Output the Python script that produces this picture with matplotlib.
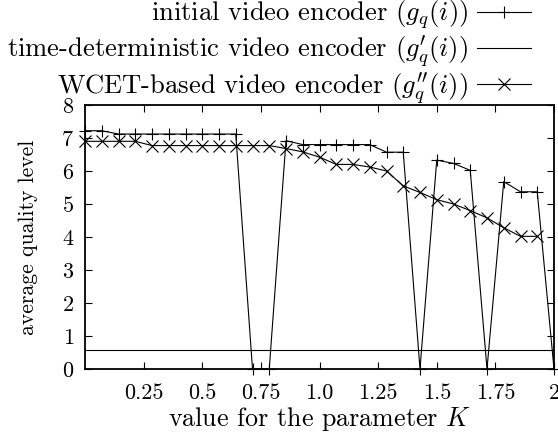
import matplotlib
matplotlib.use("Agg")
import matplotlib.pyplot as plt

plt.rcParams['font.family'] = ['cmr10', 'DejaVu Serif']
plt.rcParams['mathtext.fontset'] = 'cm'
plt.rcParams['axes.formatter.use_mathtext'] = True

# K values: 29 steps of 1/14 between 0 and 2
K = [0/14, 1/14, 2/14, 3/14, 4/14, 5/14, 6/14, 7/14, 8/14, 9/14,
     10/14, 11/14, 12/14, 13/14, 14/14, 15/14, 16/14, 17/14, 18/14, 19/14,
     20/14, 21/14, 22/14, 23/14, 24/14, 25/14, 26/14, 27/14, 28/14]

initial = [7.22, 7.22, 7.12, 7.12, 7.12, 7.12, 7.12, 7.12, 7.12, 7.12,
           0.0, 0.0, 6.92, 6.8, 6.8, 6.8, 6.8, 6.8, 6.57, 6.57,
           0.0, 6.33, 6.23, 6.02, 0.0, 5.68, 5.37, 5.37, 0.0]

time_det = [0.57, 0.57, 0.57, 0.57, 0.57, 0.57, 0.57, 0.57, 0.57, 0.57,
            0.57, 0.57, 0.57, 0.57, 0.57, 0.57, 0.57, 0.57, 0.57, 0.57,
            0.57, 0.57, 0.57, 0.57, 0.57, 0.57, 0.57, 0.57, 0.57]

K_wcet = K[:28]
wcet = [6.9, 6.9, 6.9, 6.9, 6.77, 6.77, 6.77, 6.77, 6.77, 6.77,
        6.77, 6.77, 6.68, 6.58, 6.42, 6.2, 6.2, 6.12, 6.0, 5.55,
        5.35, 5.13, 5.0, 4.8, 4.58, 4.28, 4.02, 4.02]

xticks = [0.25, 0.5, 0.75, 1.0, 1.25, 1.5, 1.75, 2.0]
xticklabels = ['0.25', '0.5', '0.75', '1.0', '1.25', '1.5', '1.75', '2']
yticks = [0, 1, 2, 3, 4, 5, 6, 7, 8]

labels = ['initial video encoder $(g_q(i))$',
          r"time-deterministic video encoder $(g_q^{\prime}(i))$",
          r"WCET-based video encoder $(g_q^{\prime\prime}(i))$"]

W, H = 558, 436
fig = plt.figure(figsize=(W / 100, H / 100), dpi=100)
ax = fig.add_axes([85 / W, 1 - 369 / H, (554 - 85) / W, (369 - 105) / H])

lw = 0.8
l1, = ax.plot(K, initial, color='black', lw=lw, marker='+', ms=8, mew=0.8, clip_on=False)
l2, = ax.plot(K, time_det, color='black', lw=lw)
l3, = ax.plot(K_wcet, wcet, color='black', lw=lw, marker='x', ms=8.5, mew=0.8, clip_on=False)

ax.set_xlim(0, 2)
ax.set_ylim(0, 8)
ax.set_xticks(xticks)
ax.set_xticklabels(xticklabels)
ax.set_yticks(yticks)
xpad, ypad = 9.5, 9.0
ax.tick_params(direction='in', top=True, right=True, length=5, width=0.8,
               labelsize=19, colors='black')
ax.tick_params(axis='x', pad=xpad)
ax.tick_params(axis='y', pad=ypad)
for s in ax.spines.values():
    s.set_linewidth(1.3)

ax.set_xlabel('value for the parameter $K$', fontsize=19, labelpad=0)
ax.set_ylabel('average quality level', fontsize=19)
ax.yaxis.set_label_coords((38 - 85) / 469, 0.5)

# ---- size the texts to the reference's measured extents (pixels) ----
fig.canvas.draw()
r = fig.canvas.get_renderer()


def fitted(txt, target, dim='width'):
    bb = txt.get_window_extent(r)
    cur = bb.width if dim == 'width' else bb.height
    return txt.get_fontsize() * target / cur


tick_fs = fitted(ax.get_xticklabels()[0], 39.5)
ax.tick_params(labelsize=tick_fs)
ax.xaxis.label.set_fontsize(fitted(ax.xaxis.label, 303))
ax.yaxis.label.set_fontsize(fitted(ax.yaxis.label, 195, 'height'))

probe = fig.text(0, 0, labels[1], fontsize=19)
leg_fs = fitted(probe, 461)
probe.remove()
em_px = leg_fs * 100 / 72

# one legend per row, so the rows keep the reference's even spacing
row_y = [15, 51.7, 88.3]
for h, lab, y in zip([l1, l2, l3], labels, row_y):
    fig.legend([h], [lab], loc='center right',
               bbox_to_anchor=(531 / W, 1 - y / H), bbox_transform=fig.transFigure,
               frameon=False, markerfirst=False, fontsize=leg_fs, numpoints=1,
               handlelength=54 / em_px, handletextpad=9 / em_px,
               borderpad=0.0, borderaxespad=0.0)

# ---- place tick labels and x label where the reference has them ----
fig.canvas.draw()
bb = ax.get_xticklabels()[0].get_window_extent(r)
dy = 393 - (H - (bb.y0 + bb.y1) / 2)
xpad += dy * 0.72
bb = ax.get_yticklabels()[0].get_window_extent(r)
dx = bb.x1 - 74
ypad += dx * 0.72
ax.tick_params(axis='x', pad=xpad)
ax.tick_params(axis='y', pad=ypad)

fig.canvas.draw()
bb = ax.xaxis.label.get_window_extent(r)
dy = 419 - (H - (bb.y0 + bb.y1) / 2)
ax.xaxis.labelpad = ax.xaxis.labelpad + dy * 0.72

fig.savefig('out.png', dpi=100)
